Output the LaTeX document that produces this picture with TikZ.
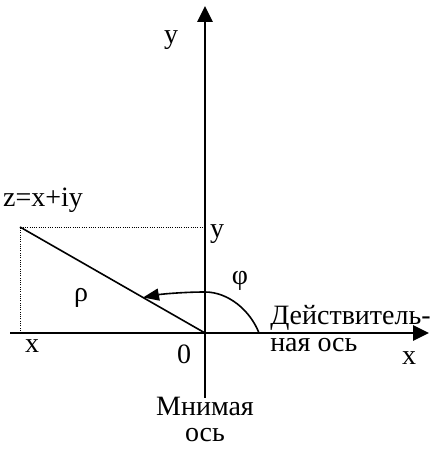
\documentclass[tikz,border=0pt]{standalone}
\usepackage{fontspec}
\setmainfont{Liberation Serif}
\usetikzlibrary{calc,arrows.meta}

\begin{document}
\begin{tikzpicture}[x=0.75pt,y=0.75pt,
    axis/.style={line width=1.5pt, -{Triangle[length=12pt,width=11.5pt]}},
    rholine/.style={line width=1.2pt},
    phiarc/.style={line width=1.2pt, -{Triangle[length=12pt,width=9pt]}},
    proj/.style={densely dotted, line width=0.7pt},
    lbl/.style={anchor=base, inner sep=0pt, font=\fontsize{21}{24}\selectfont}]

    \useasboundingbox (0,0) rectangle (430,450);

    % Axes
    \coordinate (O)  at (205,117);
    \coordinate (xl) at (10,117);
    \coordinate (xr) at (429,117);
    \coordinate (yb) at (205,52);
    \coordinate (yt) at (205,444);
    \draw[axis] (xl) -- (xr);
    \draw[axis] (yb) -- (yt);

    % Point z and its projections
    \coordinate (Z)  at (20,223);
    \coordinate (Zy) at (205,223);
    \coordinate (Zx) at (20,117);
    \draw[proj] (Zx) -- (Z) -- (Zy);
    \draw[rholine] (Z) -- (O);

    % Angle phi
    \coordinate (phiS) at (259,117);
    \coordinate (phiT) at (205,158);
    \coordinate (phiE) at ($(O)!0.335!(Z)$);
    \draw[phiarc] (phiS) .. controls (250,140) and (228,158) .. (phiT)
        .. controls (185,158) and (162,156) .. (phiE);

    % Labels
    \node[lbl] (ytop)  at (171,406) {y};
    \node[lbl] (zlbl)  at (43,243) {z=x+iy};
    \node[lbl] (yval)  at (217,212) {y};
    \node[lbl] (rho)   at (81,148) {ρ};
    \node[lbl] (phi)   at (240,165) {φ};
    \node[lbl, anchor=base west] (real1) at (270,125) {Действитель-};
    \node[lbl, anchor=base west] (real2) at (270,98) {ная ось};
    \node[lbl] (xright) at (409,85) {x};
    \node[lbl] (xval)  at (32,97) {x};
    \node[lbl] (zero)  at (184,86) {0};
    \node[lbl] (imag1) at (205,34) {Мнимая};
    \node[lbl] (imag2) at (205,8) {ось};

\end{tikzpicture}
\end{document}
